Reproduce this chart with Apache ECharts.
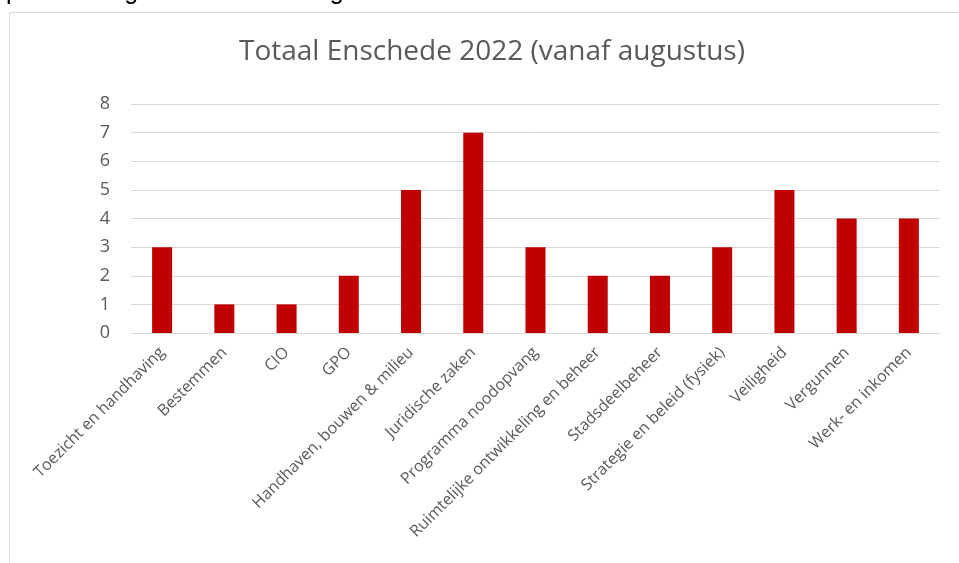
<!DOCTYPE html>
<html><head><meta charset="utf-8">
<script src="https://cdn.jsdelivr.net/npm/echarts@6/dist/echarts.min.js"></script>
<style>html,body{margin:0;padding:0;background:#fff}#c{width:959px;height:563px}</style>
</head><body><div id="c"></div>
<script>
const categories = ["Toezicht en handhaving","Bestemmen","CIO","GPO","Handhaven, bouwen & milieu","Juridische zaken","Programma noodopvang","Ruimtelijke ontwikkeling en beheer","Stadsdeelbeheer","Strategie en beleid (fysiek)","Veiligheid","Vergunnen","Werk- en inkomen"];
const values = [3,1,1,2,5,7,3,2,2,3,5,4,4];
const yTicks = [0,1,2,3,4,5,6,7,8];
const titleText = "Totaal Enschede 2022 (vanaf augustus)";
const topText = "periode augustus 2022 tot augustus 2023.";

const chart = echarts.init(document.getElementById('c'));
chart.setOption({
  animation:false,
  title:{text:titleText,left:234,top:33,textStyle:{fontFamily:'Open Sans',fontWeight:'normal',fontSize:28,color:'#595959'}},
  graphic:[
    {type:'rect',shape:{x:9.5,y:12.5,width:1000,height:600},style:{fill:'none',stroke:'#d9d9d9',lineWidth:1},silent:true,z:-1},
    {type:'text',x:6,y:-8,style:{text:topText,font:'25px "Liberation Sans"',fill:'#000',verticalAlign:'middle'}}
  ],
  grid:{left:131,right:19,top:104,bottom:230},
  xAxis:{type:'category',data:categories,
    axisLine:{lineStyle:{color:'#d9d9d9'}},axisTick:{show:false},
    axisLabel:{interval:0,rotate:45,color:'#595959',fontFamily:'Open Sans',fontSize:16,margin:17}},
  yAxis:{type:'value',min:0,max:yTicks[yTicks.length-1],interval:1,
    axisLabel:{color:'#595959',fontFamily:'Open Sans',fontSize:18,margin:21},
    splitLine:{lineStyle:{color:'#d9d9d9'}},axisLine:{show:false},axisTick:{show:false}},
  series:[{type:'bar',data:values,barWidth:20,itemStyle:{color:'#c00000'}}]
});
</script></body></html>
